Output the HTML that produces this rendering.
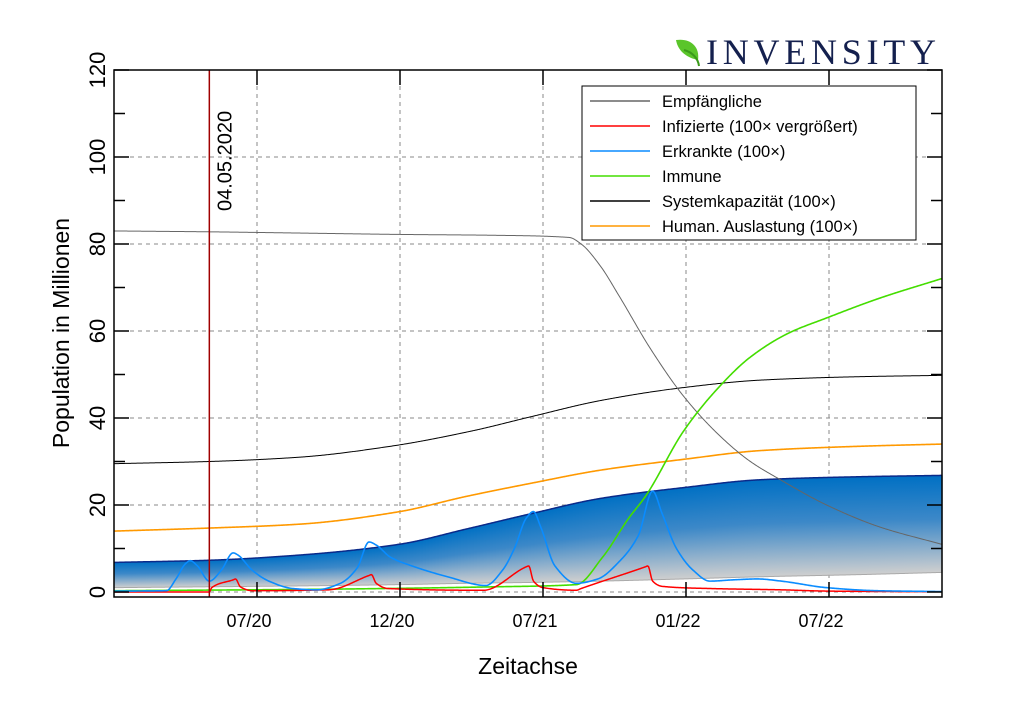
<!DOCTYPE html>
<html><head><meta charset="utf-8">
<style>
body{margin:0;background:#fff;width:1024px;height:706px;overflow:hidden}
svg text{font-family:"Liberation Sans",sans-serif}
</style></head>
<body>
<svg id="chart" width="1024" height="706" viewBox="0 0 1024 706" xmlns="http://www.w3.org/2000/svg">
<defs>
<linearGradient id="bandGrad" x1="0" y1="0" x2="0" y2="1">
<stop offset="0" stop-color="#0070c4"/><stop offset="0.45" stop-color="#3c88c8"/><stop offset="1" stop-color="#cfcfcf"/>
</linearGradient>
</defs>
<g id="logo">
<path d="M676 40 C690 38 700 46 698 60 C688 58 678 52 676 40Z" fill="#5ac52a"/>
<path d="M684 50 C692 52 698 58 699 66" stroke="#3a9a1a" stroke-width="2" fill="none"/>
<text x="706" y="64" font-size="36" fill="#14204e" letter-spacing="4" style="font-family:'Liberation Serif',serif" textLength="234">INVENSITY</text>
</g>
<g id="grid"></g>
<g id="band"></g>
<g id="lines"></g>
<g id="axes"></g>
<g id="legend"></g>
</svg>
<script>
// ---- data (t in months from left axis, values in millions) ----
const susT=[0,4,8,12,16,19.1,19.6,20.4,21.2,22.5,23.9,25.4,26.7,27.9,29.9,32.1,34.7];
const susV=[83,82.8,82.5,82.2,82,81.5,80,75,68,56,45,36,30,26,20,15,11];
const immT=[0,8,16,19.4,20.5,21.6,22.3,23.9,25.2,26.7,28.3,29.9,32.1,34.7];
const immV=[0.3,0.6,1.2,1.7,8,17,22,37,46,54,59.5,63,67.5,72];
const capT=[0,4,7.8,11.6,15,17.5,20.4,23.9,27.1,31.3,34.7];
const capV=[29.5,30,31,33.5,37,40.3,44,47,48.7,49.5,49.8];
const humT=[0,4,7.8,11.9,14.8,17.5,20.4,23.9,27.1,31.3,34.7];
const humV=[14,14.7,15.6,18.4,22,25,28,30.5,32.5,33.5,34];
const bandT=[0,4,7.8,12,14.8,17.5,20.4,23.9,27.1,31.3,34.7];
const bandTop=[6.8,7.3,8.5,11,14.5,18,21.5,24,25.8,26.5,26.8];
const bandBot=[1.0,1.2,1.4,1.7,2.0,2.2,2.5,3.0,3.5,4.0,4.5];
const sickT=[0,2.2,2.6,3.0,3.2,3.5,4.0,4.5,5.0,5.2,5.8,6.5,7.5,8.5,9.5,10.2,10.7,11.0,11.6,12.5,14,15.6,16.3,16.8,17.3,17.6,17.9,18.5,19.4,20.3,21.2,22,22.6,23.0,23.6,24.3,25.0,26,27,28,29.9,32,34.7];
const sickV=[0.2,0.3,3,6.5,7.2,6,2.5,5,9,8.5,5,2.5,0.8,0.5,2,5.5,11.5,10.8,8,6,3.5,1.5,5,10,17,18.5,15,6,2,3,7,13,23.2,18,10,5,2.5,2.8,3,2.5,1,0.3,0.1];
const infT=[0,4.0,4.1,5.0,5.1,5.3,5.8,9,10.7,10.8,11.0,11.5,15.5,17.3,17.4,17.6,18,19.4,19.6,22.3,22.4,22.6,23,25,28,30,34.7];
const infV=[0,0,1,2.8,3,1.2,0.3,0.5,3.8,4.0,2,0.8,0.4,5.8,6,2.5,1,0.4,0.8,5.8,6,2.5,1.3,0.8,0.5,0.2,0.05];
const xTickT=[6,12,18,24,30];
const xTickLabels=["07/20","12/20","07/21","01/22","07/22"];
const yTicks=[0,20,40,60,80,100,120];
const markerT=4.0;
const markerLabel="04.05.2020";
const legendNames=["Empfängliche","Infizierte (100× vergrößert)","Erkrankte (100×)","Immune","Systemkapazität (100×)","Human. Auslastung (100×)"];
const legendColors=["#666666","#ff0000","#0a8cff","#44dd00","#000000","#ff9900"];

// ---- axes functions ----
const X0=114,X1=942,Y0=592,YTOP=70,YBOT=597;
const tMax=(X1-X0)/(143/6);
const xs=t=>X0+t*(X1-X0)/tMax;
const ys=v=>Y0-v*(Y0-YTOP)/120;
const NS="http://www.w3.org/2000/svg";
function mk(tag,attrs,parent){const e=document.createElementNS(NS,tag);for(const k in attrs)e.setAttribute(k,attrs[k]);parent.appendChild(e);return e;}
// monotone cubic interpolation
function interp(T,V,t){const n=T.length;if(t<=T[0])return V[0];if(t>=T[n-1])return V[n-1];
let i=1;while(t>T[i])i++;i--;
const d=[],m=[];for(let k=0;k<n-1;k++)d.push((V[k+1]-V[k])/(T[k+1]-T[k]));
const tan=k=>{if(k===0)return d[0];if(k===n-1)return d[n-2];if(d[k-1]*d[k]<=0)return 0;
const w1=2*(T[k+1]-T[k])+(T[k]-T[k-1]),w2=(T[k+1]-T[k])+2*(T[k]-T[k-1]);return (w1+w2)/(w1/d[k-1]+w2/d[k]);};
const h=T[i+1]-T[i],s=(t-T[i])/h,m0=tan(i),m1=tan(i+1);
const h00=2*s*s*s-3*s*s+1,h10=s*s*s-2*s*s+s,h01=-2*s*s*s+3*s*s,h11=s*s*s-s*s;
return h00*V[i]+h10*h*m0+h01*V[i+1]+h11*h*m1;}
const grid=document.getElementById('grid'),band=document.getElementById('band'),lines=document.getElementById('lines'),axes=document.getElementById('axes'),legend=document.getElementById('legend');

// grid
yTicks.forEach(v=>{if(v===120)return;const l=mk('line',{x1:X0,x2:X1,y1:ys(v),y2:ys(v),stroke:'#888','stroke-dasharray':'4,4','stroke-width':1},grid);

});
xTickT.forEach(t=>{const l=mk('line',{x1:xs(t),x2:xs(t),y1:YTOP,y2:YBOT,stroke:'#888','stroke-dasharray':'4,4','stroke-width':1},grid);

});

// band slices
const N=260;
for(let i=0;i<N;i++){const t0=tMax*i/N,t1=tMax*(i+1)/N,tm=(t0+t1)/2;
const top=ys(interp(bandT,bandTop,tm)),bot=ys(interp(bandT,bandBot,tm));
const r=mk('rect',{x:xs(t0),y:top,width:xs(t1)-xs(t0)+0.6,height:bot-top,fill:'url(#bandGrad)'},band);

}
function path(T,V,color,w,name,parent){let d='';const steps=900;
for(let i=0;i<=steps;i++){const t=tMax*i/steps;d+=(i?'L':'M')+xs(t).toFixed(2)+' '+ys(interp(T,V,t)).toFixed(2);}
const p=mk('path',{d:d,fill:'none',stroke:color,'stroke-width':w,'stroke-linejoin':'round'},parent);

return p;}
path(bandT,bandTop,'#0a2a8a',1.5,'band-top-line',band);
path(bandT,bandBot,'#aaaaaa',1,'band-bottom-line',band);

path(capT,capV,'#000000',1,'line-systemkapazitaet',lines);
path(humT,humV,'#ff9900',1.6,'line-human-auslastung',lines);
path(susT,susV,'#666666',1,'line-empfaengliche',lines);
path(immT,immV,'#44dd00',1.6,'line-immune',lines);
path(infT,infV,'#ff0000',1.5,'line-infizierte',lines);
path(sickT,sickV,'#0a8cff',1.6,'line-erkrankte',lines);

// marker
const ml=mk('line',{x1:xs(markerT),x2:xs(markerT),y1:YTOP,y2:YBOT,stroke:'#a00000','stroke-width':1.5},lines);


const mt=mk('text',{x:0,y:0,'font-size':20,fill:'#000',transform:`translate(${xs(markerT)+22},211) rotate(-90)`},lines);
mt.textContent=markerLabel;



// axes box
const box=mk('rect',{x:X0,y:YTOP,width:X1-X0,height:YBOT-YTOP,fill:'none',stroke:'#000','stroke-width':1.5},axes);


for(let v=0;v<=120;v+=10){const major=v%20===0,len=major?15:11;
[[X0,X0+len],[X1,X1-len]].forEach(([a,b])=>{const l=mk('line',{x1:a,x2:b,y1:ys(v),y2:ys(v),stroke:'#000','stroke-width':1.5},axes);

});}
yTicks.forEach(v=>{const t=mk('text',{x:0,y:0,'font-size':22,'text-anchor':'middle',transform:`translate(105,${ys(v)}) rotate(-90)`},axes);
t.textContent=v;

});
xTickT.forEach((tt,i)=>{[[YBOT,YBOT-15],[YTOP,YTOP+15]].forEach(([a,b])=>{const l=mk('line',{x1:xs(tt),x2:xs(tt),y1:a,y2:b,stroke:'#000','stroke-width':1.5},axes);

});
const t=mk('text',{x:xs(tt)-8,y:627,'font-size':18,'text-anchor':'middle'},axes);
t.textContent=xTickLabels[i];

});
const xt=mk('text',{x:528,y:674,'font-size':23,'text-anchor':'middle'},axes);xt.textContent='Zeitachse';


const yt=mk('text',{x:0,y:0,'font-size':23,'text-anchor':'middle',transform:'translate(69,333) rotate(-90)'},axes);yt.textContent='Population in Millionen';



// legend
const lb=mk('rect',{x:582,y:86,width:334,height:154,fill:'#fff',stroke:'#000','stroke-width':1},legend);


legendNames.forEach((n,i)=>{const y=101+i*25;
const g=mk('g',{},legend);


mk('line',{x1:590,x2:650,y1:y,y2:y,stroke:legendColors[i],'stroke-width':1.5},g);
const t=mk('text',{x:662,y:y+6,'font-size':16.5},g);t.textContent=n;});
</script>
</body></html>
